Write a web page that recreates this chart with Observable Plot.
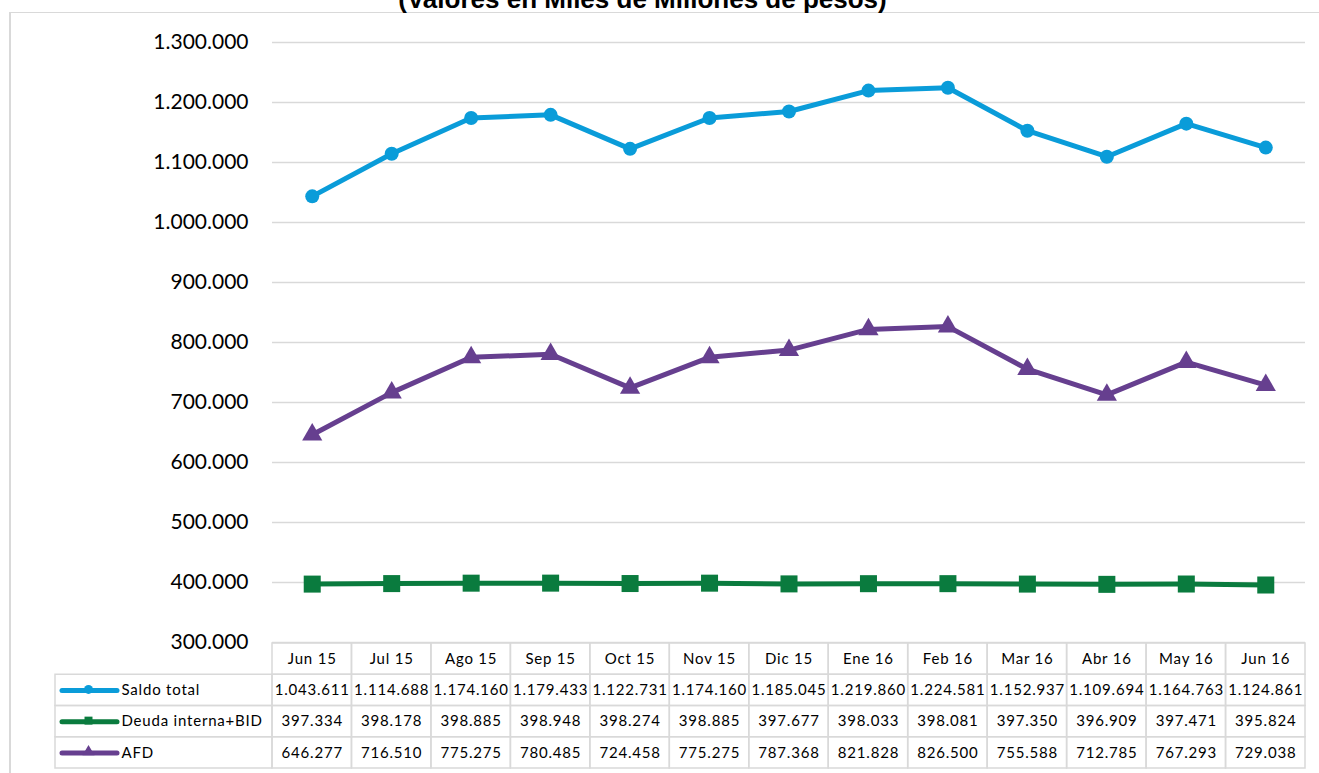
<!DOCTYPE html>
<html>
<head>
<meta charset="utf-8">
<script src="https://cdn.jsdelivr.net/npm/d3@7"></script>
<script src="https://cdn.jsdelivr.net/npm/@observablehq/plot@0.6"></script>
<style>
  html, body { margin: 0; padding: 0; background: #fff; overflow: hidden; }
  #wrap { position: relative; width: 1319px; height: 773px; overflow: hidden; background: #fff; }
  #frame { position: absolute; left: 9px; top: 12px; width: 1400px; height: 900px;
           border-left: 2px solid #d9d9d9; border-top: 1.5px solid #d9d9d9; box-sizing: border-box; }
  #title { position: absolute; left: 642.5px; top: -14px; transform: translateX(-50%);
           font: bold 26px/26px "Liberation Sans", Arial, sans-serif; color: #000; white-space: nowrap; }
  #chart { position: absolute; left: 0; top: 0; }
  #table { position: absolute; left: 0; top: 642px; }
  #table text { letter-spacing: 0.8px; }
</style>
</head>
<body>
<div id="wrap">
  <div id="frame"></div>
  <div id="title">(Valores en Miles de Millones de pesos)</div>
  <div id="chart"></div>
  <div id="table"></div>
</div>
<script>
// ---- data ----
const months = ["Jun 15","Jul 15","Ago 15","Sep 15","Oct 15","Nov 15","Dic 15","Ene 16","Feb 16","Mar 16","Abr 16","May 16","Jun 16"];
const saldoTotal = [1043611, 1114688, 1174160, 1179433, 1122731, 1174160, 1185045, 1219860, 1224581, 1152937, 1109694, 1164763, 1124861];
const deudaInterna = [397334, 398178, 398885, 398948, 398274, 398885, 397677, 398033, 398081, 397350, 396909, 397471, 395824];
const afd = [646277, 716510, 775275, 780485, 724458, 775275, 787368, 821828, 826500, 755588, 712785, 767293, 729038];
const seriesNames = ["Saldo total", "Deuda interna+BID", "AFD"];
const yTicks = [300000, 400000, 500000, 600000, 700000, 800000, 900000, 1000000, 1100000, 1200000, 1300000];

// ---- styles ----
const colors = ["#0a9cd9", "#0a7b3e", "#663f8f"];
const symbols = ["circle", "square", "triangle"];
const markR = [7, 9.6, 7.5];
const legendR = [4.5, 4.5, 4.5];

const seriesValues = [saldoTotal, deudaInterna, afd];
const series = seriesNames.map((name, k) => ({name, k, color: colors[k], symbol: symbols[k], values: seriesValues[k]}));
const long = series.flatMap(s => s.values.map((v, i) => ({series: s.name, k: s.k, i, month: months[i], value: v})));

const fmt = d3.formatLocale({decimal: ",", thousands: ".", grouping: [3], currency: ["$", ""]}).format(",d");

// ---- layout ----
const W = 1319, plotLeft = 272, plotRight = 1305, legendLeft = 55;
const colW = (plotRight - plotLeft) / months.length;
const px2x = px => -0.5 + (px - plotLeft) / colW;
const xMin = px2x(legendLeft);

// ---- main chart ----
const marks = [
  Plot.ruleY(yTicks, {stroke: "#d9d9d9", strokeWidth: 1.5})
];
series.forEach(s => {
  const d = long.filter(r => r.k === s.k);
  marks.push(Plot.line(d, {x: "i", y: "value", stroke: s.color, strokeWidth: 5, strokeLinejoin: "round"}));
});
series.forEach(s => {
  const d = long.filter(r => r.k === s.k);
  marks.push(Plot.dot(d, {x: "i", y: "value", symbol: s.symbol, r: markR[s.k], fill: s.color, stroke: "none"}));
});

const chart = Plot.plot({
  width: W,
  height: 646,
  marginTop: 42,
  marginBottom: 4,
  marginLeft: plotLeft,
  marginRight: W - plotRight,
  x: {domain: [-0.5, months.length - 0.5], axis: null},
  y: {domain: [300000, 1300000], ticks: yTicks, tickFormat: fmt, tickSize: 0, tickPadding: 24, label: null},
  style: {fontFamily: "Lato, sans-serif", fontSize: "21px", color: "#000", background: "transparent", overflow: "visible"},
  marks
});
document.getElementById("chart").append(chart);

// ---- data table ----
const cells = [];
months.forEach((m, i) => cells.push({x1: i - 0.5, x2: i + 0.5, y1: 0, y2: 1}));
series.forEach((s, k) => {
  cells.push({x1: xMin, x2: -0.5, y1: k + 1, y2: k + 2});
  months.forEach((m, i) => cells.push({x1: i - 0.5, x2: i + 0.5, y1: k + 1, y2: k + 2}));
});

const tableMarks = [
  Plot.rect(cells, {x1: "x1", x2: "x2", y1: "y1", y2: "y2", fill: "none", stroke: "#d9d9d9", strokeWidth: 1.5}),
  Plot.text(months, {x: (d, i) => i, y: () => 0.5, text: d => d, fill: "#000"}),
  Plot.text(long, {x: "i", y: d => d.k + 1.5, text: d => fmt(d.value), fill: "#000"}),
  Plot.ruleY(series, {y: d => d.k + 1.5, x1: () => px2x(62), x2: () => px2x(117), stroke: d => d.color, strokeWidth: 5, strokeLinecap: "round"}),
  Plot.dot(series, {x: () => px2x(88), y: d => d.k + 1.5, dy: -1, symbol: d => d.symbol, r: d => legendR[d.k], fill: d => d.color}),
  Plot.text(series, {x: () => px2x(121), y: d => d.k + 1.5, text: d => d.name, textAnchor: "start", fill: "#000"})
];

const table = Plot.plot({
  width: W,
  height: 129,
  marginTop: 1,
  marginBottom: 3,
  marginLeft: legendLeft,
  marginRight: W - plotRight,
  x: {domain: [xMin, months.length - 0.5], axis: null},
  y: {domain: [0, 4], range: [1, 126], axis: null},
  color: {type: "identity"},
  symbol: {type: "identity"},
  r: {type: "identity"},
  style: {fontFamily: "Lato, sans-serif", fontSize: "15px", color: "#000", background: "transparent", overflow: "visible"},
  marks: tableMarks
});
document.getElementById("table").append(table);
</script>
</body>
</html>
